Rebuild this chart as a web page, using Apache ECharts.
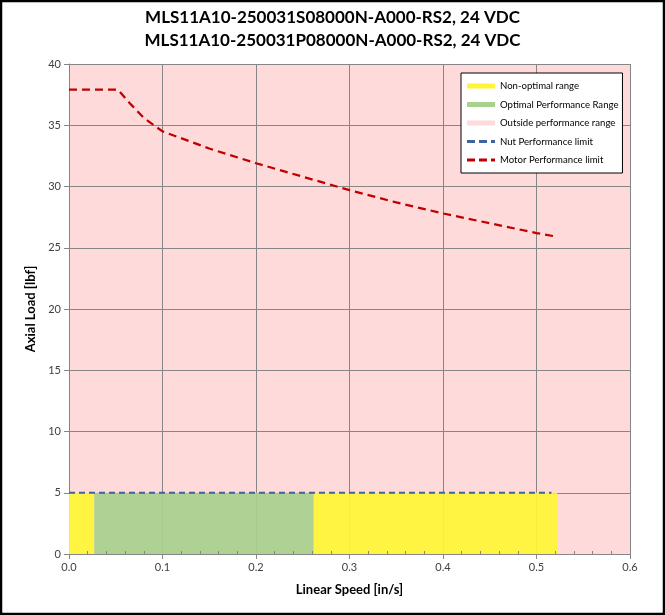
<!DOCTYPE html>
<html lang="en">
<head>
    <meta charset="UTF-8">
    <title>MLS11A10 performance</title>
    <script src="https://cdn.jsdelivr.net/npm/echarts@6/dist/echarts.min.js"></script>
    <style type="text/css">
        body{ margin: 0; background: #fff; }
    </style>
</head>
<body>
<div id="main" style="width: 665px;height: 615px;"></div>
<script type="text/javascript">
    // 数据
    var titleLines = ['MLS11A10-250031S08000N-A000-RS2, 24 VDC', 'MLS11A10-250031P08000N-A000-RS2, 24 VDC'];
    var xTicks = [0, 0.1, 0.2, 0.3, 0.4, 0.5, 0.6];
    var yTicks = [0, 5, 10, 15, 20, 25, 30, 35, 40];

    var motorSpeed = [0, 0.0524, 0.065, 0.08, 0.1, 0.15, 0.2, 0.25, 0.3, 0.35, 0.4, 0.45, 0.5, 0.522];
    var motorLoad = [37.9, 37.9, 36.8, 35.6, 34.5, 33.1, 31.9, 30.8, 29.7, 28.7, 27.8, 27.0, 26.2, 25.9];

    var nutSpeed = [0, 0.516];
    var nutLoad = [5, 5];

    var nonOptimalSpans = [[0, 0.027], [0.2615, 0.522]];
    var optimalSpans = [[0.027, 0.2615]];
    var outsideSpans = [[0, 0.6]];
    var bandLoad = 5;
    var outsideLoad = 40;

    function spanData(spans, h) {
        var res = [];
        for (var i = 0; i < spans.length; i++) {
            if (i > 0) res.push([(spans[i - 1][1] + spans[i][0]) / 2, '-']);
            res.push([spans[i][0], h]);
            res.push([spans[i][1], h]);
        }
        return res;
    }
    function pairs(xs, ys) {
        var res = [];
        for (var i = 0; i < xs.length; i++) res.push([xs[i], ys[i]]);
        return res;
    }

    var font = 'Lato, "Noto Sans", sans-serif';
    var rectIcon = 'path://M0,0H28V5H0Z';
    var dashIcon = 'path://M0,0H8V2.8H0Z M12,0H20V2.8H12Z M24,0H28V2.8H24Z';
    var myChart = echarts.init(document.getElementById('main'));

    var option = {
        animation: false,
        textStyle: { fontFamily: font },
        title: {
            text: titleLines.join('\n'),
            left: 'center',
            top: 6,
            padding: 0,
            textStyle: { fontSize: 17, fontWeight: 'bold', color: '#000', lineHeight: 23, fontFamily: font }
        },
        graphic: [{
            type: 'rect',
            shape: { x: 1, y: 1, width: 663, height: 613 },
            style: { fill: 'none', stroke: '#000', lineWidth: 2.5 },
            silent: true
        }],
        legend: {
            orient: 'vertical',
            left: 461,
            top: 73,
            padding: [8, 4, 8, 6],
            itemGap: 8.5,
            itemWidth: 28,
            itemHeight: 11,
            backgroundColor: '#fff',
            borderColor: '#000',
            borderWidth: 1,
            textStyle: { fontSize: 9.6, color: '#000', fontFamily: font },
            data: [
                { name: 'Non-optimal range', icon: rectIcon },
                { name: 'Optimal Performance Range', icon: rectIcon },
                { name: 'Outside performance range', icon: rectIcon },
                { name: 'Nut Performance limit', icon: dashIcon },
                { name: 'Motor Performance limit', icon: dashIcon }
            ]
        },
        grid: { left: 69, right: 35, top: 64, bottom: 61 },
        xAxis: [{
            type: 'value',
            min: 0, max: 0.6, interval: 0.1,
            z: 3,
            name: 'Linear Speed [in/s]',
            nameLocation: 'middle',
            nameGap: 29,
            nameTextStyle: { fontSize: 13, fontWeight: 'bold', color: '#000', fontFamily: font },
            axisLine: { show: true, lineStyle: { color: '#868686', width: 1 } },
            axisTick: { show: true, length: 5, lineStyle: { color: '#868686' } },
            axisLabel: {
                fontSize: 11, color: '#404040', margin: 8,
                formatter: function (v) { return xTicks.indexOf(Math.round(v * 10) / 10) >= 0 ? v.toFixed(1) : ''; }
            },
            splitLine: { show: true, lineStyle: { color: '#868686', width: 1 } }
        }, {
            // 内侧小刻度
            type: 'value',
            position: 'bottom',
            min: 0, max: 0.6, interval: 0.1,
            z: 6,
            axisLine: { show: false },
            axisTick: { show: false, inside: true },
            minorTick: { show: true, splitNumber: 5, length: 3, lineStyle: { color: '#868686' } },
            axisLabel: { show: false },
            splitLine: { show: false }
        }],
        yAxis: {
            type: 'value',
            min: yTicks[0], max: yTicks[yTicks.length - 1], interval: 5,
            z: 3,
            name: 'Axial Load [lbf]',
            nameLocation: 'middle',
            nameGap: 25,
            nameTextStyle: { fontSize: 13, fontWeight: 'bold', color: '#000', fontFamily: font },
            axisLine: { show: true, lineStyle: { color: '#868686', width: 1 } },
            axisTick: { show: true, length: 5, lineStyle: { color: '#868686' } },
            axisLabel: { fontSize: 11, color: '#404040', margin: 8 },
            splitLine: { show: true, lineStyle: { color: '#868686', width: 1 } }
        },
        series: [
            {
                name: 'Outside performance range',
                type: 'line',
                z: 1,
                color: '#FFDADB',
                symbol: 'none',
                lineStyle: { width: 0 },
                areaStyle: { color: '#FFDADB', opacity: 1 },
                data: spanData(outsideSpans, outsideLoad)
            },
            {
                name: 'Non-optimal range',
                type: 'line',
                z: 4,
                color: '#FFF535',
                symbol: 'none',
                lineStyle: { width: 0 },
                areaStyle: { color: '#FFF535', opacity: 0.93 },
                data: spanData(nonOptimalSpans, bandLoad)
            },
            {
                name: 'Optimal Performance Range',
                type: 'line',
                z: 4,
                color: '#A9D18E',
                symbol: 'none',
                lineStyle: { width: 0 },
                areaStyle: { color: '#A9D18E', opacity: 0.93 },
                data: spanData(optimalSpans, bandLoad)
            },
            {
                name: 'Nut Performance limit',
                type: 'line',
                z: 5,
                color: '#3F62A0',
                symbol: 'none',
                lineStyle: { width: 2, type: [6, 4], color: '#3F62A0' },
                data: pairs(nutSpeed, nutLoad)
            },
            {
                name: 'Motor Performance limit',
                type: 'line',
                z: 5,
                color: '#C00000',
                symbol: 'none',
                lineStyle: { width: 2.25, type: [8, 5], color: '#C00000' },
                data: pairs(motorSpeed, motorLoad)
            }
        ]
    };
    myChart.setOption(option);
</script>
</body>
</html>
